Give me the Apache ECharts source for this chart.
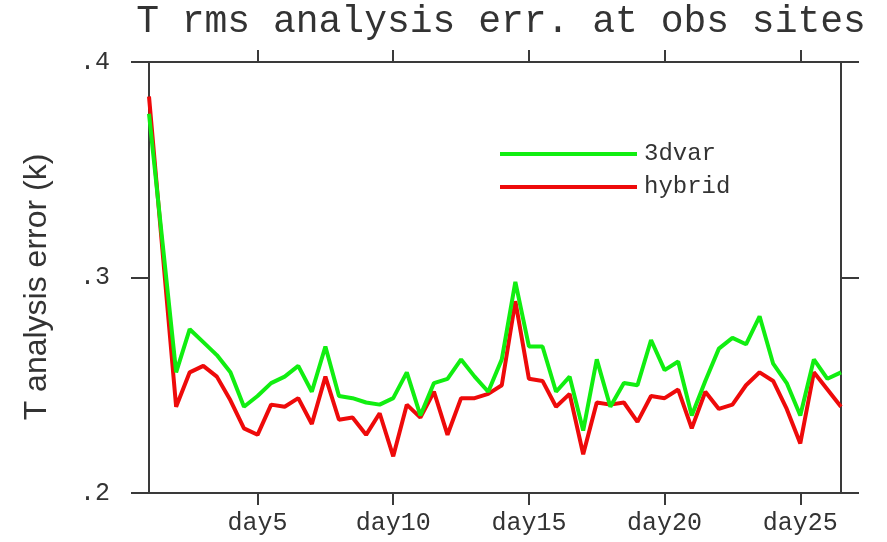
<!DOCTYPE html>
<html>
<head>
<meta charset="utf-8">
<script src="https://cdn.jsdelivr.net/npm/echarts@6/dist/echarts.min.js"></script>
<style>html,body{margin:0;padding:0;background:#fff}#c{width:887px;height:542px}</style>
</head>
<body>
<div id="c"></div>
<script>
// Data (12-hourly, day 1 to day 26.5)
var days = [1,1.5,2,2.5,3,3.5,4,4.5,5,5.5,6,6.5,7,7.5,8,8.5,9,9.5,10,10.5,11,11.5,12,12.5,13,13.5,14,14.5,15,15.5,16,16.5,17,17.5,18,18.5,19,19.5,20,20.5,21,21.5,22,22.5,23,23.5,24,24.5,25,25.5,26,26.5];
var var3d = [0.376,0.316,0.256,0.276,0.270,0.264,0.256,0.240,0.245,0.251,0.254,0.259,0.247,0.268,0.245,0.244,0.242,0.241,0.244,0.256,0.236,0.251,0.253,0.262,0.254,0.247,0.262,0.298,0.268,0.268,0.247,0.254,0.229,0.262,0.240,0.251,0.250,0.271,0.257,0.261,0.236,0.252,0.267,0.272,0.269,0.282,0.260,0.251,0.236,0.262,0.253,0.256];
var hybrid = [0.384,0.312,0.240,0.256,0.259,0.254,0.243,0.230,0.227,0.241,0.240,0.244,0.232,0.254,0.234,0.235,0.227,0.237,0.217,0.241,0.235,0.247,0.227,0.244,0.244,0.246,0.250,0.289,0.253,0.252,0.240,0.246,0.218,0.242,0.241,0.242,0.233,0.245,0.244,0.248,0.230,0.247,0.239,0.241,0.250,0.256,0.252,0.239,0.223,0.256,0.248,0.240];
var seriesNames = ['3dvar', 'hybrid'];
var xTickDays = [5, 10, 15, 20, 25];
var yTicks = [0.2, 0.3, 0.4];
var titleText = 'T rms analysis err. at obs sites';
var yAxisTitle = 'T analysis error (k)';

function pairs(vals){ return vals.map(function(v,i){ return [days[i], v]; }); }

var mono = '"Liberation Mono", monospace';
var axisCol = '#3a3a3a';
var chart = echarts.init(document.getElementById('c'), null, {renderer:'canvas'});
chart.setOption({
  animation: false,
  backgroundColor: '#fff',
  title: {
    text: titleText, left: 496, top: -2, textAlign: 'center',
    textStyle: {fontFamily: mono, fontSize: 38, fontWeight: 'normal', color: '#333'}
  },
  legend: {
    data: seriesNames, orient: 'vertical', left: 495, top: 137,
    itemWidth: 137, itemHeight: 4, itemGap: 9, icon: 'rect',
    textStyle: {fontFamily: mono, fontSize: 24, color: '#333', padding:[0,0,0,2]}
  },
  grid: {left: 149, right: 46, top: 62, bottom: 49},
  xAxis: [{
    type: 'value', min: 1, max: 26.5, position: 'bottom',
    axisLine: {lineStyle: {color: axisCol, width: 2}},
    axisTick: {show: true, inside: false, length: 12, customValues: xTickDays, lineStyle: {color: axisCol, width: 2}},
    axisLabel: {customValues: xTickDays, formatter: function(v){ return 'day' + v; }, margin: 18,
      fontFamily: mono, fontSize: 25, color: '#333'},
    splitLine: {show: false}
  }, {
    type: 'value', min: 1, max: 26.5, position: 'top',
    axisLine: {show: true, lineStyle: {color: axisCol, width: 2}},
    axisTick: {show: true, inside: false, length: 12, customValues: xTickDays, lineStyle: {color: axisCol, width: 2}},
    axisLabel: {show: false}, splitLine: {show: false}
  }],
  yAxis: [{
    type: 'value', min: 0.2, max: 0.4, interval: 0.1, position: 'left',
    axisLine: {show: true, lineStyle: {color: axisCol, width: 2}},
    axisTick: {show: true, inside: false, length: 18, lineStyle: {color: axisCol, width: 2}},
    axisLabel: {margin: 39, fontFamily: mono, fontSize: 25, color: '#333',
      formatter: function(v){ return v.toFixed(1).replace(/^0/, ''); }},
    splitLine: {show: false}
  }, {
    type: 'value', min: 0.2, max: 0.4, interval: 0.1, position: 'right',
    axisLine: {show: true, lineStyle: {color: axisCol, width: 2}},
    axisTick: {show: true, inside: false, length: 18, lineStyle: {color: axisCol, width: 2}},
    axisLabel: {show: false}, splitLine: {show: false}
  }],
  graphic: [{
    type: 'text', x: 37, y: 287, rotation: Math.PI / 2,
    style: {text: yAxisTitle, fontFamily: '"Liberation Sans", Arial, sans-serif', fontSize: 32,
      fill: '#333', textAlign: 'center', textVerticalAlign: 'middle'}
  }],
  series: [{
    name: seriesNames[1], type: 'line', data: pairs(hybrid), showSymbol: false, symbol: 'none',
    itemStyle: {color: '#ee0a0a'}, lineStyle: {color: '#ee0a0a', width: 4}, z: 2
  }, {
    name: seriesNames[0], type: 'line', data: pairs(var3d), showSymbol: false, symbol: 'none',
    itemStyle: {color: '#11ee11'}, lineStyle: {color: '#11ee11', width: 4}, z: 3
  }]
});
</script>
</body>
</html>
